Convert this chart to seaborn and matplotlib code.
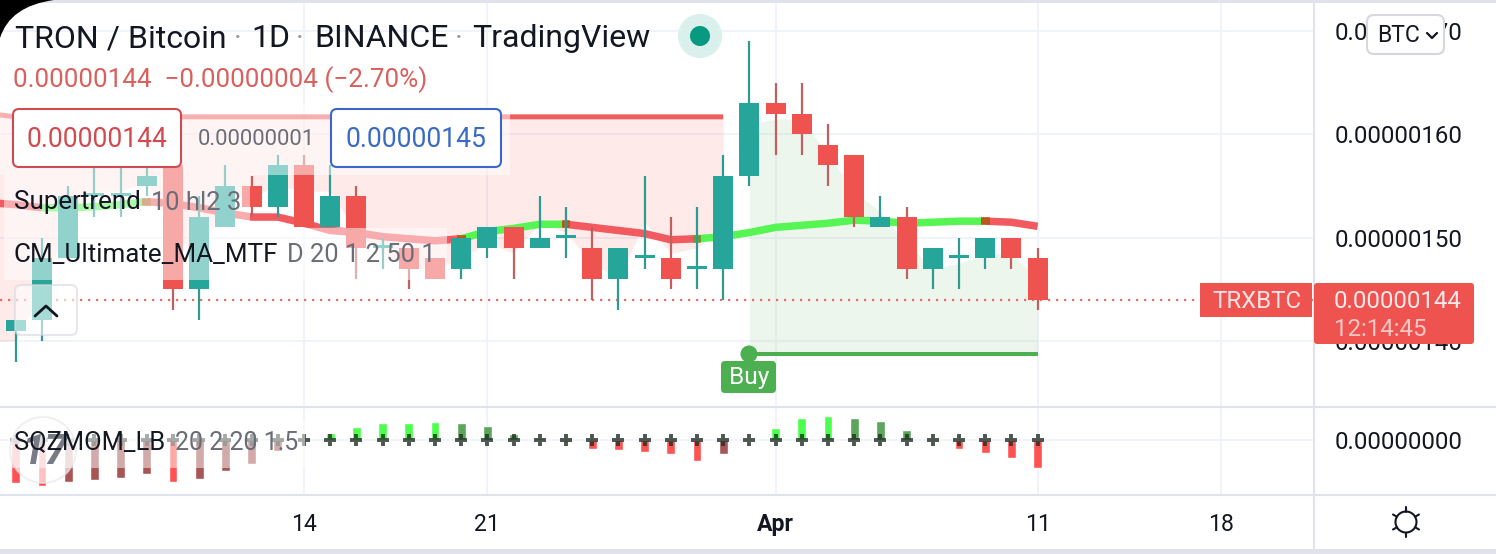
import numpy as np
import pandas as pd
import matplotlib
matplotlib.use("Agg")
import matplotlib.pyplot as plt
import seaborn as sns
from matplotlib.patches import Circle, FancyBboxPatch, PathPatch, Rectangle
from matplotlib.path import Path

# prices are in satoshi (1e-8 BTC), x axis is day number counted from 1 March
days = list(range(3, 43))
opens = [141, 142, 148, 154, 154, 155, 157, 145, 151, 155, 153, 157, 151, 154, 149, 149, 148, 147, 149, 151,
         149, 150, 149, 146, 148, 148, 147, 147, 156, 163, 162, 159, 158, 151, 152, 147, 148, 148, 150, 148]
closes = [142, 148, 154, 154, 154, 156, 145, 152, 155, 153, 157, 151, 154, 149, 149, 147, 146, 150, 151, 149,
          150, 150, 146, 149, 148, 146, 147, 156, 163, 162, 160, 157, 152, 152, 147, 149, 148, 150, 148, 144]
highs = [142, 150, 155, 157, 157, 157, 158, 154, 157, 156, 158, 158, 157, 155, 150, 149, 148, 150, 151, 151,
         154, 153, 151, 149, 156, 152, 153, 158, 169, 165, 165, 161, 158, 154, 153, 149, 150, 150, 150, 149]
lows = [138, 140, 148, 152, 152, 154, 143, 142, 151, 152, 152, 151, 151, 146, 147, 145, 146, 146, 148, 146,
        149, 148, 144, 143, 147, 145, 145, 144, 155, 158, 158, 155, 151, 151, 146, 145, 145, 147, 147, 143]

ma_days = list(range(2, 43))
ma_values = [153.4, 153.2, 152.9, 152.9, 153.0, 153.2, 153.5, 153.3, 152.9, 152.4, 152.0, 152.0, 151.4, 150.7,
             150.5, 150.1, 149.9, 149.7, 149.9, 150.6, 150.9, 151.3, 151.3, 151.0, 150.7, 150.4, 149.8, 149.9,
             150.1, 150.5, 151.0, 151.2, 151.4, 151.7, 151.6, 151.4, 151.5, 151.6, 151.6, 151.5, 151.1]
ma_runs = [(2, 4, "down"), (4, 8, "up"), (8, 20, "down"), (20, 24, "up"),
           (24, 29, "down"), (29, 40, "up"), (40, 42, "down")]
ma_turns = [8, 20, 24, 29, 40]

st_down_days = list(range(2, 31))
st_down_line = [162.0] + [161.7] * 28
st_down_mid = [140, 140, 145, 151.5, 154.5, 154.5, 155.5, 150.5, 148, 154, 154, 155, 154.5, 154.5, 150.5, 148.5,
               147, 147, 148, 149.5, 148.5, 151.5, 150.5, 147.5, 146, 151.5, 148.5, 149, 151]
st_up_days = list(range(31, 43))
st_up_line = [138.7] * 12
st_up_mid = [161, 161.5, 161.5, 158, 154.5, 152.5, 149.5, 147, 147.5, 148.5, 148.5, 146]

mom_values = [-42.6, -46, -41.5, -40, -37.5, -34, -41.5, -39, -31, -24, -11, 0, 7.5, 13.5, 17, 17, 18, 17, 14,
              6.5, 2, -2, -8.5, -9.5, -11.5, -13.5, -20.5, -13.5, 1, 12, 22, 24, 22, 19, 10, 1, -8.5, -12.5,
              -17.5, -28]
mom_states = ["rise_neg", "rise_neg", "fade_neg", "fade_neg", "fade_neg", "fade_neg", "rise_neg", "fade_neg",
              "fade_neg", "fade_neg", "fade_neg", "fade_neg", "rise_pos", "rise_pos", "rise_pos", "rise_pos",
              "rise_pos", "fade_pos", "fade_pos", "fade_pos", "fade_pos", "rise_neg", "rise_neg", "rise_neg",
              "rise_neg", "rise_neg", "rise_neg", "fade_neg", "fade_pos", "rise_pos", "rise_pos", "rise_pos",
              "fade_pos", "fade_pos", "fade_pos", "fade_pos", "rise_neg", "rise_neg", "rise_neg", "rise_neg"]

price_ticks = [140, 150, 160, 170]
time_ticks = [14, 21, 32, 42, 49]
time_labels = ["14", "21", "Apr", "11", "18"]

W, H = 1496, 554
RIGHT, PANE, BOTTOM = 1314, 407, 495
TEAL, RED = "#26a69a", "#ef5350"
INK, GREY, LINE = "#131722", "#6a6d78", "#e0e3eb"
GRID = "#f0f3fa"

sns.set_theme(style="white")
plt.rcParams["font.family"] = ["Roboto", "DejaVu Sans"]


def px(size):
    return size * 0.72


fig = plt.figure(figsize=(W / 100, H / 100), dpi=100, facecolor="white")
ax = fig.add_axes([0, (H - PANE) / H, RIGHT / W, PANE / H])
ax_mom = fig.add_axes([0, (H - BOTTOM) / H, RIGHT / W, (BOTTOM - PANE) / H])
ui = fig.add_axes([0, 0, 1, 1], facecolor="none", zorder=10)

# ── Price pane ───────────────────────────────────────────────────────────────
ax.fill_between(st_down_days, st_down_line, st_down_mid, color=RED, alpha=0.12, lw=0)
ax.fill_between(st_up_days, st_up_line, st_up_mid, color="#4caf50", alpha=0.1, lw=0)
ax.axhline(144, color=RED, lw=1.6, ls=(0, (1, 2.6)), alpha=0.85, zorder=1.5)

st_df = pd.DataFrame({"day": st_down_days + st_up_days, "value": st_down_line + st_up_line,
                      "side": ["down"] * len(st_down_days) + ["up"] * len(st_up_days)})
sns.lineplot(data=st_df[st_df.side == "down"], x="day", y="value", color="#f05f5f", lw=3.6, ax=ax,
             estimator=None, legend=False, solid_capstyle="butt")
sns.lineplot(data=st_df[st_df.side == "up"], x="day", y="value", color="#4caf50", lw=2.9, ax=ax,
             estimator=None, legend=False, solid_capstyle="butt")

ma = pd.Series(ma_values, index=ma_days)
ma_rows = []
for run, (start, stop, trend) in enumerate(ma_runs):
    for d in range(start, stop + 1):
        ma_rows.append({"day": d, "ma": ma[d], "trend": trend, "run": run})
sns.lineplot(data=pd.DataFrame(ma_rows), x="day", y="ma", hue="trend", units="run", estimator=None,
             palette={"up": "#57f553", "down": "#f25a5f"}, lw=5.4, ax=ax, legend=False, solid_capstyle="butt")
for d in ma_turns:
    color = "#6f9a30" if d in (29, ) else "#b8581c"
    ax.plot([d - 0.17, d + 0.17], [ma[d], ma[d]], color=color, lw=5.4, solid_capstyle="butt")

candles = pd.DataFrame({"day": days, "o": opens, "h": highs, "l": lows, "c": closes})
candles["up"] = candles.c >= candles.o
for up, group in candles.groupby("up"):
    ax.vlines(group.day, group.l, group.h, color="#2f9a93" if up else "#c2605f", lw=1.6, zorder=3)
    body = (group.c - group.o).abs().clip(lower=0.3)
    ax.bar(group.day, body, bottom=group[["o", "c"]].min(axis=1), width=0.76,
           color=TEAL if up else RED, lw=0, zorder=4)

ax.set_xlim(14 - 304 / 26.2, 14 + (RIGHT - 304) / 26.2)
ax.set_ylim(140 + (341 - PANE) / 10.33, 140 + 341 / 10.33)
ax.yaxis.tick_right()
ax.set_yticks(price_ticks)
ax.set_yticklabels([f"{v * 1e-8:.8f}" for v in price_ticks])
ax.set_xticks(time_ticks)
ax.tick_params(axis="x", labelbottom=False, length=0)
ax.tick_params(axis="y", length=0, pad=px(21), labelsize=px(24), labelcolor=INK)
ax.set_xlabel("")
ax.set_ylabel("")

# ── Squeeze momentum pane ────────────────────────────────────────────────────
mom = pd.DataFrame({"day": days, "value": mom_values, "state": mom_states})
sns.barplot(data=mom, x="day", y="value", hue="state", native_scale=True, dodge=False, width=0.34, gap=0,
            saturation=1, legend=False, ax=ax_mom, zorder=3,
            palette={"rise_neg": "#ff5252", "fade_neg": "#a85555", "rise_pos": "#4cff4c", "fade_pos": "#5ba65b"})
ax_mom.plot(days, [0] * len(days), ls="none", marker="+", ms=8.6, mew=2.8, color="#1f2d24", alpha=0.8, zorder=4)
ax_mom.set_xlim(ax.get_xlim())
ax_mom.set_ylim(-55, 33)
ax_mom.yaxis.tick_right()
ax_mom.set_yticks([0])
ax_mom.set_yticklabels([f"{0:.8f}"])
ax_mom.set_xticks(time_ticks)
ax_mom.set_xticklabels(time_labels)
ax_mom.get_xticklabels()[2].set_fontweight("bold")
ax_mom.tick_params(axis="x", length=0, pad=px(18), labelsize=px(23), labelcolor=INK)
ax_mom.tick_params(axis="y", length=0, pad=px(21), labelsize=px(24), labelcolor=INK)
ax_mom.set_xlabel("")
ax_mom.set_ylabel("")

for a in (ax, ax_mom):
    a.grid(True, color=GRID, lw=1.4)
    a.set_axisbelow(True)
    a.set_facecolor("none")
    sns.despine(ax=a, left=True, bottom=True, right=True, top=True)

# ── Chrome drawn in pixel coordinates ────────────────────────────────────────
ui.set_xlim(0, W)
ui.set_ylim(H, 0)
ui.axis("off")


def box(x0, y0, x1, y1, face="white", edge="none", lw=1.4, alpha=None, rad=6, zorder=5):
    ui.add_patch(FancyBboxPatch((x0 + rad, y0 + rad), x1 - x0 - 2 * rad, y1 - y0 - 2 * rad,
                                boxstyle=f"round,pad={rad},rounding_size={rad}", fc=face, ec=edge, lw=lw,
                                alpha=alpha, zorder=zorder, mutation_aspect=1))


def label(x, y, s, size, color=INK, ha="left", zorder=8, **kw):
    return ui.text(x, y + 1.5, s, fontsize=px(size), color=color, ha=ha, va="center", zorder=zorder, **kw)


# translucent backgrounds behind the legend rows
for x0, y0, x1, y1 in [(0, 105, 510, 175), (4, 175, 250, 228), (4, 228, 447, 280), (8, 420, 305, 468)]:
    ui.add_patch(Rectangle((x0, y0), x1 - x0, y1 - y0, fc="white", ec="none", alpha=0.5, zorder=2))

ui.plot([0, W], [PANE, PANE], color=LINE, lw=1.5, zorder=3)
ui.plot([0, W], [BOTTOM, BOTTOM], color=LINE, lw=1.5, zorder=3)
ui.plot([RIGHT, RIGHT], [0, 549], color=LINE, lw=1.5, zorder=3)
ui.add_patch(Rectangle((0, 0), W, 2.5, fc=LINE, ec="none", zorder=3))
ui.add_patch(Rectangle((0, 549), W, 5, fc=LINE, ec="none", zorder=3))

corner = Path([(0, 0), (54, 0), (10, 6), (0, 38), (0, 0)],
              [Path.MOVETO, Path.LINETO, Path.CURVE3, Path.CURVE3, Path.CLOSEPOLY])
ui.add_patch(PathPatch(corner, fc="black", ec="none", zorder=9))

label(15, 37, "TRON / Bitcoin", 32)
label(234, 37, "·", 30, "#9a9da6")
label(251, 37, "1D", 32)
label(296, 37, "·", 30, "#9a9da6")
label(314, 37, "BINANCE", 32)
label(455, 37, "·", 30, "#9a9da6")
label(472, 37, "TradingView", 32)
ui.add_patch(Circle((700, 36), 22, fc="#d9f0ec", ec="none", zorder=5))
ui.add_patch(Circle((700, 36), 10, fc="#089981", ec="none", zorder=6))
label(13, 78, "0.00000144  −0.00000004 (−2.70%)", 26, "#d9605c")

box(13, 109, 181, 167, edge="#cf4b52", lw=1.5)
label(97, 138, "0.00000144", 26.5, "#d24a50", ha="center")
label(198, 138, "0.00000001", 22, GREY)
box(331, 109, 501, 167, edge="#3a68c8", lw=1.5)
label(416, 138, "0.00000145", 26.5, "#3a6bc4", ha="center")

label(14, 201, "Supertrend", 26)
label(151, 201, "10 hl2 3", 25.5, GREY)
label(14, 253, "CM_Ultimate_MA_MTF", 26)
label(287, 253, "D 20 1 2 50 1", 25.5, GREY)
label(14, 441, "SQZMOM_LB", 25.5)
label(175, 441, "20 2 20 1.5", 25, GREY)

box(15, 285, 77, 335, face="white", edge="#d6d8de", alpha=0.6, lw=1.5)
ui.plot([35, 46, 57], [316, 306, 316], color=INK, lw=2, zorder=7)

ui.add_patch(Circle((43, 450), 33, fc="white", ec="#e6e7eb", lw=1.4, alpha=0.65, zorder=4))
label(45, 451, "17", 42, "#787b86", ha="center", zorder=5, fontweight="bold", fontstyle="italic")

ui.add_patch(Circle((749, 354), 8.5, fc="#4caf50", ec="none", zorder=6))
box(721, 361, 776, 393, face="#4caf50", rad=4)
label(749, 376, "Buy", 24.5, "white", ha="center")

box(1367, 15, 1444, 54, edge="#d6d8de", lw=1.5, rad=7)
label(1377, 34, "BTC", 23)
ui.plot([1427, 1432, 1437], [33, 38, 33], color=INK, lw=1.6, zorder=8)

ui.add_patch(Rectangle((1200, 283), 112, 34, fc=RED, ec="none", zorder=5))
label(1257, 300, "TRXBTC", 24, "#fde3e3", ha="center")
box(1314, 283, 1474, 344, face=RED, rad=3)
label(1334, 300, "0.00000144", 24, "#fde9e9")
label(1334, 328, "12:14:45", 24, "#f9c7c6")

ui.add_patch(Circle((1406, 522), 10.5, fc="none", ec=INK, lw=1.5, zorder=6))
for angle in np.arange(0, 360, 60) + 90:
    c, s = np.cos(np.radians(angle)), np.sin(np.radians(angle))
    ui.plot([1406 + 10.5 * c, 1406 + 15 * c], [522 + 10.5 * s, 522 + 15 * s], color=INK, lw=1.5, zorder=6)

fig.savefig("out.png", dpi=100)
